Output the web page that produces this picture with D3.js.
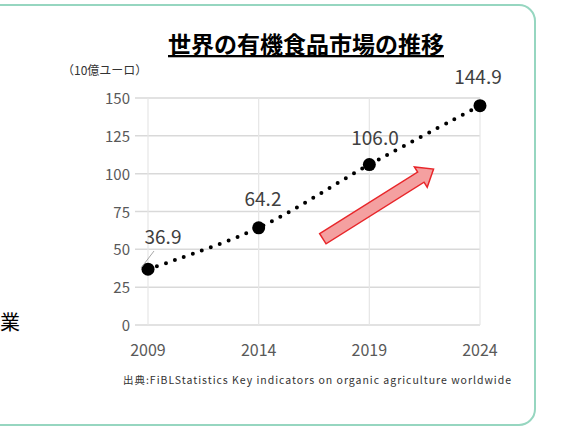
<!DOCTYPE html>
<html><head><meta charset="utf-8">
<script src="https://cdn.jsdelivr.net/npm/d3@7"></script>
<style>body{margin:0;background:#fff}</style>
</head><body>
<script>
var years = [2009, 2014, 2019, 2024];
var values = [36.9, 64.2, 106.0, 144.9];
var yTicks = [0, 25, 50, 75, 100, 125, 150];
var labels = ['36.9', '64.2', '106.0', '144.9'];

var svg = d3.select('body').append('svg').attr('width', 569).attr('height', 432);
var font = "'Noto Sans CJK JP', 'Noto Sans', sans-serif";

// frame
svg.append('rect').attr('x', -20).attr('y', 5).attr('width', 555).attr('height', 420)
    .attr('rx', 16).attr('fill', '#fff').attr('stroke', '#96d6c0').attr('stroke-width', 2);
svg.append('text').attr('x', 0).attr('y', 330).attr('font-family', font).attr('font-size', 20).text('業');

var x = d3.scaleLinear().domain([2009, 2024]).range([148, 480]);
var y = d3.scaleLinear().domain([0, 150]).range([325, 98]);

svg.selectAll('line.h').data(yTicks).enter().append('line')
    .attr('x1', 135).attr('x2', 480).attr('y1', d => y(d)).attr('y2', d => y(d))
    .attr('stroke', '#d9d9d9').attr('stroke-width', 1.5);
svg.selectAll('line.v').data(years).enter().append('line')
    .attr('x1', d => x(d)).attr('x2', d => x(d)).attr('y1', y(150)).attr('y2', y(0))
    .attr('stroke', '#e6e6e6').attr('stroke-width', 1.2);

svg.selectAll('text.yt').data(yTicks).enter().append('text')
    .attr('x', 130).attr('y', d => y(d) + 6).attr('text-anchor', 'end')
    .attr('font-family', font).attr('font-size', 15).attr('fill', '#595959').text(d => d);
svg.selectAll('text.xt').data(years).enter().append('text')
    .attr('x', d => x(d)).attr('y', 356).attr('text-anchor', 'middle')
    .attr('font-family', font).attr('font-size', 16).attr('fill', '#595959').text(d => d);

// title
svg.append('text').attr('x', 306).attr('y', 53).attr('text-anchor', 'middle')
    .attr('font-family', font).attr('font-size', 23).attr('font-weight', 'bold')
    .attr('text-decoration', 'underline').text('世界の有機食品市場の推移');
svg.append('text').attr('x', 62).attr('y', 75).attr('font-family', font).attr('font-size', 12)
    .attr('fill', '#333').text('（10億ユーロ）');

// arrow
var a0 = [x(2016.9), y(57)], a1 = [x(2021.9), y(103)];
var ang = Math.atan2(a1[1] - a0[1], a1[0] - a0[0]);
var len = Math.hypot(a1[0] - a0[0], a1[1] - a0[1]);
svg.append('path').attr('transform', 'translate(' + a0 + ') rotate(' + ang * 180 / Math.PI + ')')
    .attr('d', 'M0,-6 L' + (len - 15) + ',-6 L' + (len - 15) + ',-12 L' + len + ',0 L' + (len - 15) + ',12 L' + (len - 15) + ',6 L0,6 Z')
    .attr('fill', '#f4a0a0').attr('stroke', '#e8262a').attr('stroke-width', 1.5);

var pts = years.map((d, i) => [x(d), y(values[i])]);
svg.append('path').datum(pts).attr('d', d3.line().curve(d3.curveCatmullRom))
    .attr('fill', 'none').attr('stroke', '#000').attr('stroke-width', 4)
    .attr('stroke-linecap', 'round').attr('stroke-dasharray', '0 9.5');
svg.selectAll('circle').data(pts).enter().append('circle')
    .attr('cx', d => d[0]).attr('cy', d => d[1]).attr('r', 6.5).attr('fill', '#000');

svg.append('line').attr('x1', 141).attr('y1', 268).attr('x2', 154).attr('y2', 251)
    .attr('stroke', '#a6a6a6');
var lx = [163, 263, 375, 478], ly = [244, 206, 145, 84];
svg.selectAll('text.lab').data(labels).enter().append('text')
    .attr('x', (d, i) => lx[i]).attr('y', (d, i) => ly[i]).attr('text-anchor', 'middle')
    .attr('font-family', font).attr('font-size', 19).attr('fill', '#404040').text(d => d);

svg.append('text').attr('x', 123).attr('y', 384).attr('font-family', font).attr('font-size', 10.5)
    .attr('textLength', 388).attr('fill', '#333')
    .text('出典:FiBLStatistics Key indicators on organic agriculture worldwide');
</script>
</body></html>
